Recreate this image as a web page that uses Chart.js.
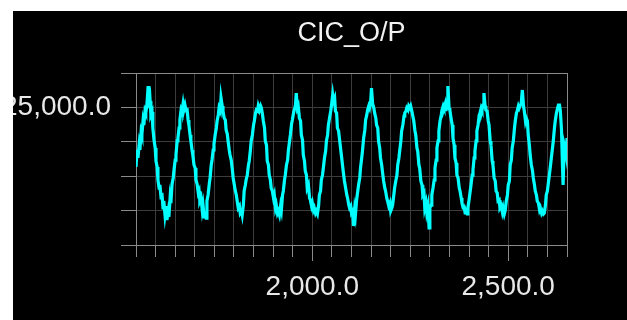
<!DOCTYPE html>
<html><head><meta charset="utf-8">
<script src="https://cdn.jsdelivr.net/npm/chart.js@4.4.1/dist/chart.umd.min.js"></script>
<style>
html,body{margin:0;padding:0;background:#fff;width:627px;height:320px;overflow:hidden}
#wrap{position:absolute;left:13px;top:11px;width:614px;height:309px;background:#000}
canvas{display:block}
</style></head><body>
<div id="wrap"><canvas id="c" width="614" height="309"></canvas></div>
<script>
const chartTitle = 'CIC_O/P';
const xValues = [
1550,1553,1555,1558,1560,1563,1565,1568,1570,1573,
1575,1578,1581,1583,1586,1588,1591,1593,1596,1599,
1601,1604,1606,1609,1611,1614,1616,1619,1621,1624,
1627,1629,1632,1634,1637,1639,1642,1645,1647,1650,
1652,1655,1657,1660,1662,1665,1667,1670,1672,1675,
1678,1680,1683,1685,1688,1690,1693,1695,1698,1701,
1703,1706,1709,1711,1713,1716,1719,1721,1724,1726,
1729,1731,1734,1737,1739,1742,1744,1747,1749,1752,
1755,1757,1760,1762,1765,1767,1770,1772,1775,1778,
1780,1783,1785,1788,1790,1793,1796,1798,1801,1803,
1806,1809,1811,1814,1816,1819,1821,1824,1826,1829,
1831,1834,1837,1839,1842,1844,1847,1850,1852,1855,
1857,1860,1862,1865,1868,1870,1873,1875,1878,1880,
1883,1885,1888,1890,1893,1895,1898,1901,1903,1906,
1908,1911,1913,1916,1919,1921,1924,1926,1929,1931,
1934,1937,1939,1942,1944,1947,1949,1952,1954,1957,
1959,1962,1964,1967,1970,1972,1975,1977,1980,1982,
1985,1987,1990,1993,1995,1998,2000,2003,2005,2008,
2010,2013,2016,2018,2021,2023,2026,2029,2031,2034,
2036,2039,2041,2044,2047,2049,2052,2054,2057,2059,
2062,2064,2067,2070,2072,2075,2077,2080,2082,2085,
2088,2090,2093,2095,2098,2100,2103,2105,2108,2110,
2113,2116,2118,2121,2123,2126,2128,2131,2134,2136,
2139,2141,2144,2146,2149,2151,2154,2157,2159,2162,
2164,2167,2169,2172,2174,2177,2180,2182,2185,2187,
2190,2192,2195,2198,2200,2203,2205,2208,2210,2213,
2216,2218,2221,2223,2226,2228,2231,2234,2236,2239,
2241,2244,2246,2249,2251,2254,2256,2259,2262,2264,
2267,2269,2272,2274,2277,2280,2282,2285,2287,2290,
2292,2295,2298,2300,2303,2305,2308,2311,2313,2316,
2318,2321,2323,2326,2329,2331,2334,2336,2339,2341,
2344,2346,2349,2351,2354,2357,2359,2362,2364,2367,
2369,2372,2375,2377,2380,2382,2385,2387,2390,2392,
2395,2397,2400,2403,2405,2408,2410,2413,2415,2418,
2420,2423,2426,2428,2431,2433,2436,2438,2441,2443,
2446,2449,2451,2454,2456,2459,2461,2464,2467,2469,
2472,2474,2477,2479,2482,2485,2487,2490,2492,2495,
2498,2500,2503,2505,2508,2510,2513,2516,2518,2521,
2523,2526,2528,2531,2533,2536,2539,2541,2544,2546,
2549,2551,2554,2556,2559,2562,2564,2567,2569,2572,
2574,2577,2580,2582,2585,2587,2590,2592,2595,2597,
2600,2603,2605,2608,2610,2613,2615,2618,2620,2623,
2626,2628,2631,2633,2636,2638,2640,2643,2646,2648,2650
];
const yValues = [
16340,18810,17650,19530,18810,21420,20990,23020,22440,24480,
24190,25490,28110,24910,25930,23900,24330,22010,20260,19100,
17210,16340,14450,13280,13720,11830,12560,10380,11400,9360,
10670,8630,9800,9070,11830,11100,13870,14740,15900,17350,
18080,20120,20550,22010,23170,24620,24330,25490,24620,25350,
24480,24910,23170,22440,20990,20120,18810,18080,16630,16190,
14450,13870,12560,12850,11400,11830,10090,10810,9070,9800,
8920,11400,12270,13870,14740,16630,17350,18810,19680,20990,
22010,23020,23900,24910,24480,26370,25200,24480,23460,23170,
21720,21130,20120,18810,18080,17350,15900,14740,13720,13000,
12270,11100,10380,10670,9650,9940,9360,10810,12850,13720,
14450,15170,16630,17210,18810,20120,20990,22440,23020,24190,
24620,24480,25200,24620,25200,24910,23900,23020,22010,20120,
19530,17210,16630,15170,14450,13280,12850,11830,12270,10380,
10810,9650,9940,9360,10670,10090,12270,12850,14450,15170,
16630,17350,18810,20120,20990,22590,23170,24190,24620,25350,
27090,24910,25200,23460,23020,20990,20260,18080,17210,15760,
15170,13280,13720,11830,11540,10670,11100,10090,10380,9650,
9940,9510,10670,12270,12850,14450,15170,16630,17650,18660,
20120,20990,22440,23460,24480,25350,26800,25930,26370,24480,
24190,22010,21570,20120,19100,17650,16630,15170,14300,13280,
12270,11830,10810,10380,10670,9650,9940,7760,10090,9360,
11540,12850,13720,14740,16190,17650,18660,20550,21720,23170,
23900,24620,25200,24910,25930,27820,25490,24910,24190,23460,
22440,22010,20120,19100,17650,16630,15170,14300,13280,12850,
11830,11400,10670,11100,9940,10380,10810,12270,13280,14300,
15170,16630,17650,18660,20120,21570,22440,23750,24190,24480,
24910,24620,25200,24910,25200,24480,23900,23020,21570,20990,
19100,18660,16630,16190,14300,13720,12270,12560,10380,11100,
9800,10670,7470,10380,10810,12270,13280,14450,16190,17350,
19100,20120,21570,23020,23900,24620,25200,24910,25490,24480,
25350,28110,24910,24620,23460,22440,20550,19530,17650,16920,
15170,14740,13280,12850,11830,11100,10380,10670,9650,9940,
9510,10380,11540,12850,13720,15170,15900,17650,18660,20120,
21570,22440,23900,24190,24910,24620,25350,27090,25200,24620,
24480,23020,22440,20120,19530,17210,16630,14740,14300,12850,
12560,11400,11540,10380,10670,9800,10380,9510,9940,11400,
12270,13720,14300,16630,17350,19100,20120,22010,23020,24190,
24480,25200,24910,25350,25490,27530,25200,24480,23020,23460,
23020,20990,19530,18080,16630,15760,14740,13720,12850,12270,
11400,11100,10090,10380,9650,9940,9510,9650,10810,12270,
12850,14300,15170,16630,17650,19100,20120,22010,23020,24190,
24910,25350,25350,24480,21720,17350,13720,19530,18810,18080,20550
];
const xTickValues = [2000, 2500];
const xTickLabels = ['2,000.0', '2,500.0'];
const yTickValues = [25000];
const yTickLabels = ['25,000.0'];

Chart.defaults.font.family = "'Liberation Sans', Arial, sans-serif";

const centerTitle = {
  id: 'centerTitle',
  afterLayout(chart) {
    const t = chart.titleBlock;
    if (t) {
      t.left = chart.chartArea.left;
      t.right = chart.chartArea.right;
      t.width = t.right - t.left;
    }
  }
};

new Chart(document.getElementById('c'), {
  type: 'line',
  data: {
    datasets: [{
      data: xValues.map((x, i) => ({ x: x, y: yValues[i] })),
      borderColor: '#00ffff',
      borderWidth: 3.2,
      pointRadius: 0,
      tension: 0,
      fill: false
    }]
  },
  options: {
    responsive: false,
    animation: false,
    events: [],
    layout: { padding: { left: 0, right: 60, top: 0, bottom: 0 } },
    plugins: {
      legend: { display: false },
      tooltip: { enabled: false },
      title: {
        display: true, text: chartTitle, color: '#f2f2f2',
        font: { size: 27, weight: 'normal', lineHeight: 1.2 },
        padding: { top: 6, bottom: 23.6 }
      }
    },
    scales: {
      x: {
        type: 'linear', min: 1550, max: 2650,
        ticks: {
          stepSize: 50, autoSkip: false, maxRotation: 0, minRotation: 0,
          color: '#e8e8e8', font: { size: 28 }, padding: 9,
          callback: (v) => { const i = xTickValues.indexOf(v); return i >= 0 ? xTickLabels[i] : ''; }
        },
        grid: {
          color: (c) => (c.tick && c.tick.value === 2650) ? '#8a8a8a' : '#3c3c3c',
          tickColor: '#8a8a8a', tickLength: 16, lineWidth: 1,
          tickBorderDash: (c) => (c.tick && xTickValues.indexOf(c.tick.value) >= 0) ? [] : [11, 40]
        },
        border: { color: '#8a8a8a' },
        afterFit: (s) => { s.height = 75; }
      },
      y: {
        min: 5000, max: 30000,
        ticks: {
          stepSize: 5000, autoSkip: false, color: '#e8e8e8', font: { size: 28, lineHeight: 0.9 }, padding: 10,
          callback: (v) => { const i = yTickValues.indexOf(v); return i >= 0 ? yTickLabels[i] : ''; }
        },
        grid: {
          color: (c) => (c.tick && c.tick.value === 30000) ? '#8a8a8a' : '#3c3c3c',
          tickColor: '#8a8a8a', tickLength: 15, lineWidth: 1
        },
        border: { color: '#8a8a8a' },
        afterFit: (s) => { s.width = 123; }
      }
    }
  },
  plugins: [centerTitle]
});
</script>
</body></html>
